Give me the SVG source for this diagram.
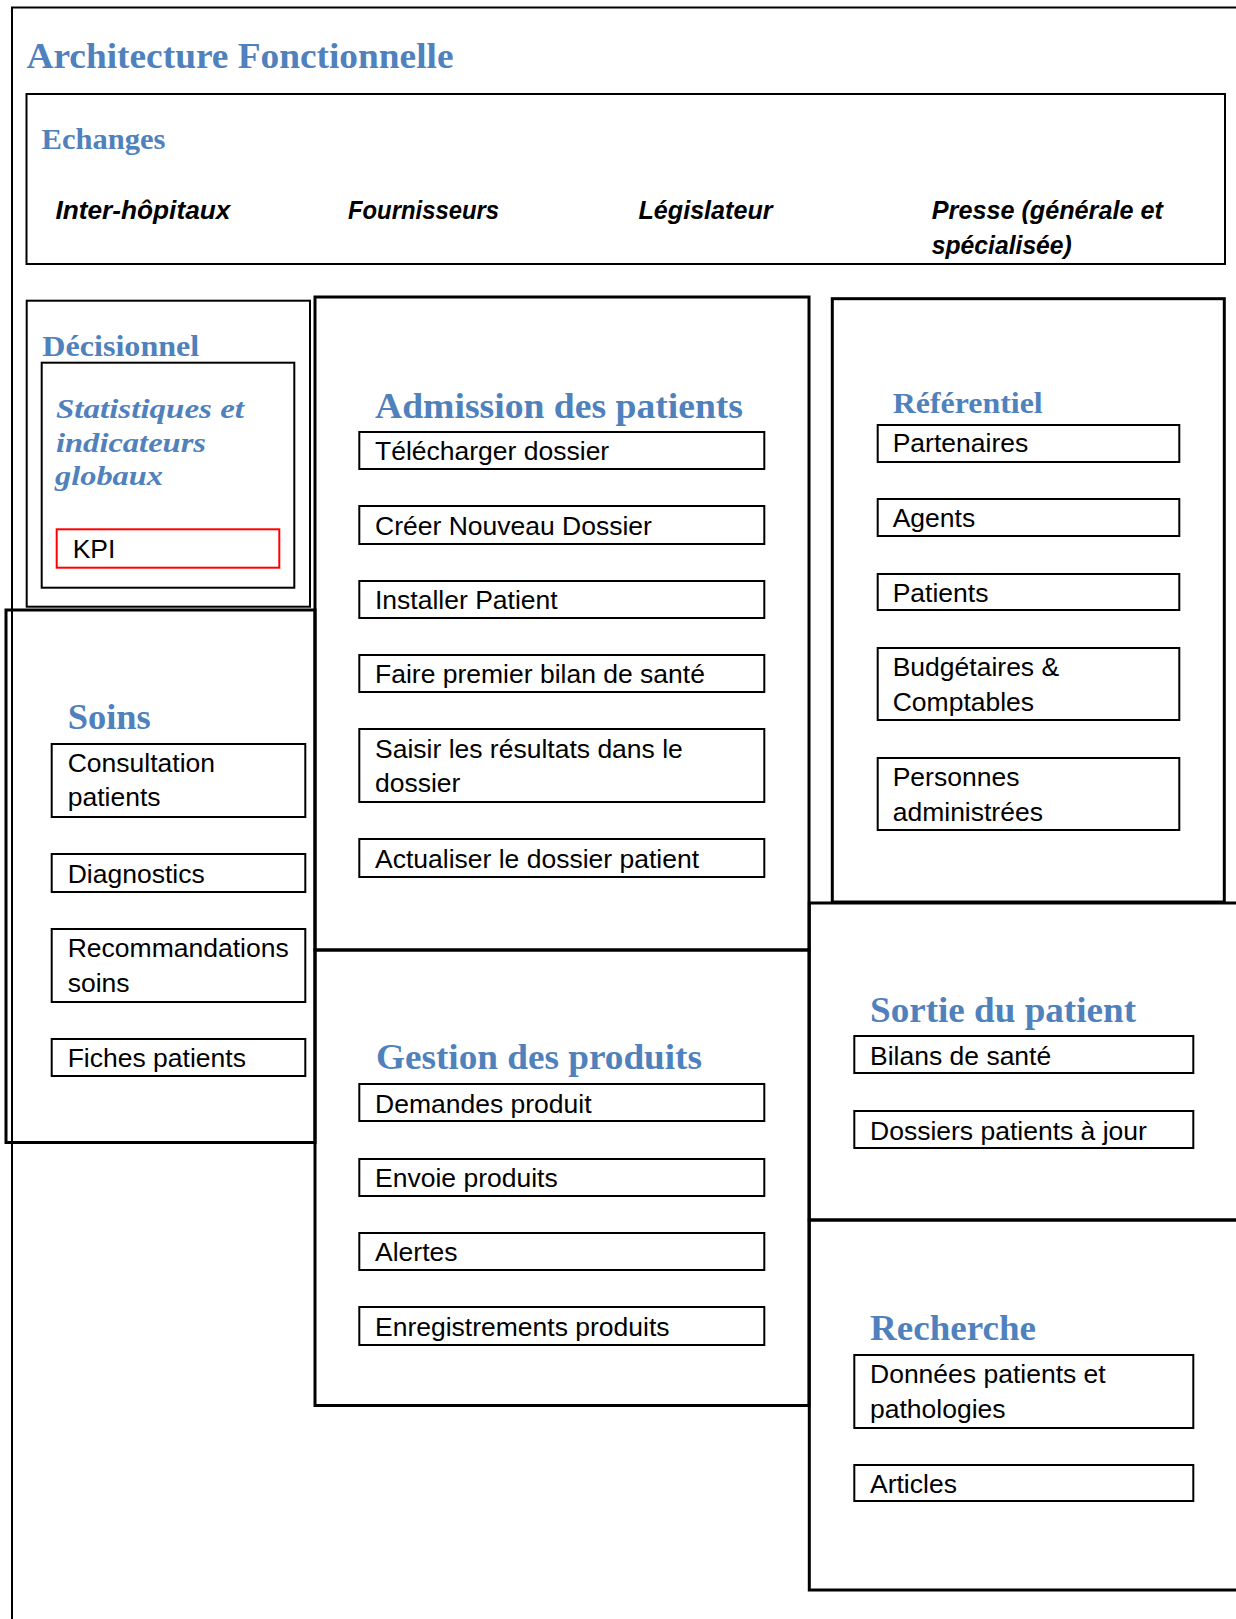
<svg xmlns="http://www.w3.org/2000/svg" width="1236" height="1619" viewBox="0 0 1236 1619">
<style>
.page{fill:none;stroke:#000;stroke-width:2}
.box{fill:none;stroke:#000;stroke-width:3}
.thin{fill:none;stroke:#000;stroke-width:2}
.item{fill:#fff;stroke:#000;stroke-width:2}
.kpi{fill:#fff;stroke:#ff0000;stroke-width:2}
.h{font-family:"Liberation Serif",serif;font-weight:bold;fill:#4F81BD}
.hi{font-family:"Liberation Serif",serif;font-weight:bold;font-style:italic;fill:#4F81BD;font-size:27px}
.t{font-family:"Liberation Sans",sans-serif;font-size:26.5px;fill:#000}
.ex{font-family:"Liberation Sans",sans-serif;font-weight:bold;font-style:italic;font-size:25px;fill:#000}
</style>
<rect width="1236" height="1619" fill="#fff"/>
<path class="page" d="M12,1619 V7.5 H1236"/>
<text class="h" x="26.5" y="68" font-size="35" textLength="427" lengthAdjust="spacingAndGlyphs">Architecture Fonctionnelle</text>

<g id="echanges">
<rect class="thin" x="26.5" y="94" width="1198.5" height="170"/>
<text class="h" x="41.5" y="149" font-size="30" textLength="124" lengthAdjust="spacingAndGlyphs">Echanges</text>
<text class="ex" x="55.4" y="219" textLength="175" lengthAdjust="spacingAndGlyphs">Inter-hôpitaux</text>
<text class="ex" x="348" y="219" textLength="151" lengthAdjust="spacingAndGlyphs">Fournisseurs</text>
<text class="ex" x="638.5" y="219" textLength="134" lengthAdjust="spacingAndGlyphs">Législateur</text>
<text class="ex" x="931.8" y="219" textLength="231" lengthAdjust="spacingAndGlyphs">Presse (générale et</text>
<text class="ex" x="931.8" y="254" textLength="140" lengthAdjust="spacingAndGlyphs">spécialisée)</text>
</g>

<g id="decisionnel">
<rect class="thin" x="26.7" y="300.7" width="283.3" height="306"/>
<text class="h" x="42.3" y="356" font-size="29" textLength="157" lengthAdjust="spacingAndGlyphs">Décisionnel</text>
<g id="statistiques">
<rect class="thin" x="41.7" y="362.7" width="252.6" height="225"/>
<text class="hi" x="56" y="418" textLength="188" lengthAdjust="spacingAndGlyphs">Statistiques et</text>
<text class="hi" x="56" y="452" textLength="150" lengthAdjust="spacingAndGlyphs">indicateurs</text>
<text class="hi" x="55" y="485" textLength="108" lengthAdjust="spacingAndGlyphs">globaux</text>
<g id="kpi">
<rect class="kpi" x="56.7" y="529.3" width="222.6" height="38.4"/>
<text class="t" x="72.7" y="558">KPI</text>
</g>
</g>
</g>

<g id="admission">
<rect class="box" x="315" y="297" width="494" height="653"/>
<text class="h" x="375" y="418" font-size="35" textLength="368" lengthAdjust="spacingAndGlyphs">Admission des patients</text>
<g id="adm1"><rect class="item" x="359.3" y="432" width="405" height="37"/><text class="t" x="375" y="460">Télécharger dossier</text></g>
<g id="adm2"><rect class="item" x="359.3" y="506" width="405" height="38"/><text class="t" x="375" y="535">Créer Nouveau Dossier</text></g>
<g id="adm3"><rect class="item" x="359.3" y="581" width="405" height="37"/><text class="t" x="375" y="609">Installer Patient</text></g>
<g id="adm4"><rect class="item" x="359.3" y="655" width="405" height="37"/><text class="t" x="375" y="683">Faire premier bilan de santé</text></g>
<g id="adm5"><rect class="item" x="359.3" y="729" width="405" height="73"/><text class="t" x="375" y="758">Saisir les résultats dans le</text><text class="t" x="375" y="792">dossier</text></g>
<g id="adm6"><rect class="item" x="359.3" y="839" width="405" height="38"/><text class="t" x="375" y="868">Actualiser le dossier patient</text></g>
</g>

<g id="gestion">
<rect class="box" x="315" y="950" width="494" height="455.5"/>
<text class="h" x="376" y="1069" font-size="35" textLength="326" lengthAdjust="spacingAndGlyphs">Gestion des produits</text>
<g id="ges1"><rect class="item" x="359.3" y="1084" width="405" height="37"/><text class="t" x="375" y="1113">Demandes produit</text></g>
<g id="ges2"><rect class="item" x="359.3" y="1159" width="405" height="37"/><text class="t" x="375" y="1187">Envoie produits</text></g>
<g id="ges3"><rect class="item" x="359.3" y="1233" width="405" height="37"/><text class="t" x="375" y="1261">Alertes</text></g>
<g id="ges4"><rect class="item" x="359.3" y="1307" width="405" height="38"/><text class="t" x="375" y="1336">Enregistrements produits</text></g>
</g>

<g id="soins">
<rect class="box" x="6" y="610" width="309" height="532.5"/>
<text class="h" x="67.7" y="729" font-size="35" textLength="83" lengthAdjust="spacingAndGlyphs">Soins</text>
<g id="soi1"><rect class="item" x="51.7" y="744" width="253.6" height="73"/><text class="t" x="67.7" y="772">Consultation</text><text class="t" x="67.7" y="806">patients</text></g>
<g id="soi2"><rect class="item" x="51.7" y="854" width="253.6" height="38"/><text class="t" x="67.7" y="883">Diagnostics</text></g>
<g id="soi3"><rect class="item" x="51.7" y="929" width="253.6" height="73"/><text class="t" x="67.7" y="957">Recommandations</text><text class="t" x="67.7" y="992">soins</text></g>
<g id="soi4"><rect class="item" x="51.7" y="1039" width="253.6" height="37"/><text class="t" x="67.7" y="1067">Fiches patients</text></g>
</g>

<g id="referentiel">
<rect class="box" x="832.3" y="298.7" width="392" height="603.3"/>
<text class="h" x="892.7" y="413" font-size="30" textLength="150" lengthAdjust="spacingAndGlyphs">Référentiel</text>
<g id="ref1"><rect class="item" x="877.7" y="425" width="301.6" height="37"/><text class="t" x="892.7" y="452">Partenaires</text></g>
<g id="ref2"><rect class="item" x="877.7" y="499" width="301.6" height="37"/><text class="t" x="892.7" y="527">Agents</text></g>
<g id="ref3"><rect class="item" x="877.7" y="574" width="301.6" height="36"/><text class="t" x="892.7" y="602">Patients</text></g>
<g id="ref4"><rect class="item" x="877.7" y="648" width="301.6" height="72"/><text class="t" x="892.7" y="676">Budgétaires &amp;</text><text class="t" x="892.7" y="711">Comptables</text></g>
<g id="ref5"><rect class="item" x="877.7" y="758" width="301.6" height="72"/><text class="t" x="892.7" y="786">Personnes</text><text class="t" x="892.7" y="821">administrées</text></g>
</g>

<g id="sortie">
<rect class="box" x="809.3" y="903" width="440" height="317"/>
<text class="h" x="870" y="1022" font-size="35" textLength="266" lengthAdjust="spacingAndGlyphs">Sortie du patient</text>
<g id="sor1"><rect class="item" x="854.3" y="1036" width="339" height="37"/><text class="t" x="870" y="1065">Bilans de santé</text></g>
<g id="sor2"><rect class="item" x="854.3" y="1111" width="339" height="37"/><text class="t" x="870" y="1140">Dossiers patients à jour</text></g>
</g>

<g id="recherche">
<rect class="box" x="809.3" y="1220" width="440" height="370"/>
<text class="h" x="870" y="1340" font-size="35" textLength="166" lengthAdjust="spacingAndGlyphs">Recherche</text>
<g id="rec1"><rect class="item" x="854.3" y="1355" width="339" height="73"/><text class="t" x="870" y="1383">Données patients et</text><text class="t" x="870" y="1418">pathologies</text></g>
<g id="rec2"><rect class="item" x="854.3" y="1465" width="339" height="36"/><text class="t" x="870" y="1493">Articles</text></g>
</g>

<g id="connectors"/>
</svg>
